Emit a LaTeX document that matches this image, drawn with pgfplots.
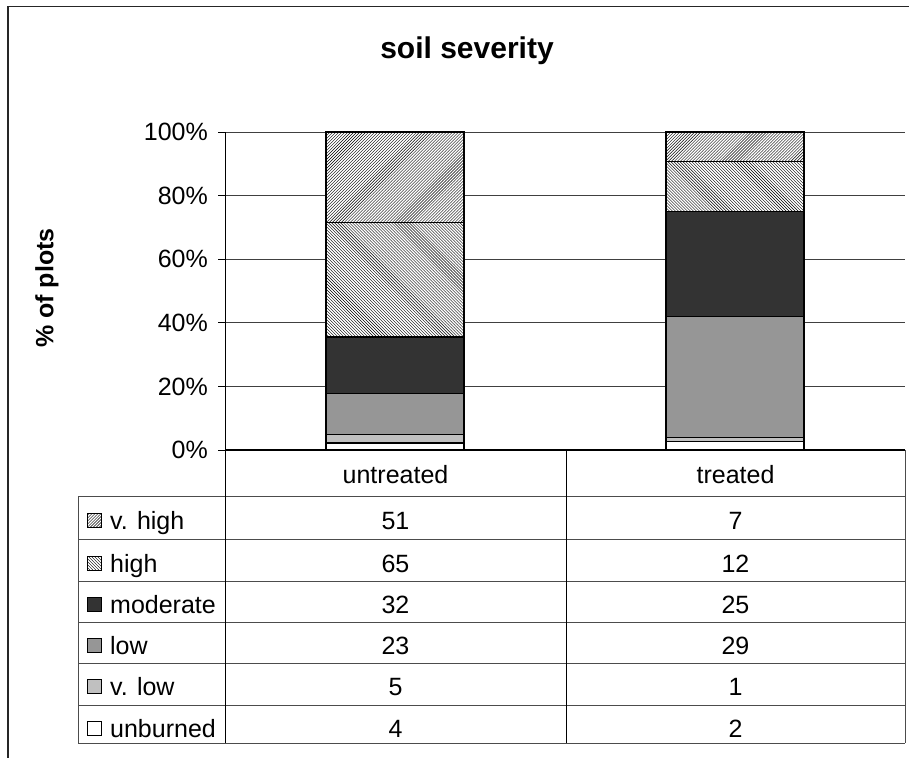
\documentclass[border=0pt]{standalone}
\usepackage{fontspec}
\setmainfont{Liberation Sans}
\usepackage{pgfplots}
\pgfplotsset{compat=1.18}
\usetikzlibrary{patterns}
\definecolor{cmod}{HTML}{333333}
\definecolor{clow}{HTML}{969696}
\definecolor{cvlow}{HTML}{C0C0C0}
\newcommand{\fs}{\fontsize{25bp}{29bp}\selectfont}
\begin{document}
\begin{tikzpicture}
\path[use as bounding box] (0bp,0bp) rectangle (909bp,-758bp);
\begin{axis}[
 at={(225bp,-450bp)}, anchor=south west,
 scale only axis, width=680bp, height=318bp,
 xmin=-0.5, xmax=1.5, ymin=0, ymax=100,
 ybar stacked, bar width=138bp,
 axis line style={draw=none},
 xtick=\empty,
 ytick={0,20,40,60,80,100},
 yticklabels={0\%,20\%,40\%,60\%,80\%,100\%},
 ytick pos=left,
 tick align=outside, major tick length=7bp,
 ytick style={black, line width=1bp},
 yticklabel style={font=\fs, inner sep=0pt, xshift=-10bp},
 ymajorgrids, grid style={black!75, line width=1bp},
 clip=false,
]
% unburned
\addplot[draw=black, line width=1.2bp, fill=white] coordinates {(0,2.222) (1,2.632)};
% v. low
\addplot[draw=black, line width=1.2bp, fill=cvlow] coordinates {(0,2.778) (1,1.316)};
% low
\addplot[draw=black, line width=1.2bp, fill=clow] coordinates {(0,12.778) (1,38.158)};
% moderate
\addplot[draw=black, line width=1.2bp, fill=cmod] coordinates {(0,17.778) (1,32.895)};
% high
\addplot[draw=black, line width=1.2bp, fill=white, postaction={pattern=north west lines, pattern color=black}] coordinates {(0,36.111) (1,15.789)};
% v. high
\addplot[draw=black, line width=1.2bp, fill=white, postaction={pattern=north east lines, pattern color=black}] coordinates {(0,28.333) (1,9.211)};
\end{axis}
\begin{scope}[x=1bp,y=-1bp]
% frame
\draw[black!85, line width=1.4bp] (8,760) -- (8,6.5) -- (912,6.5);
% title
\node[font=\bfseries\fontsize{30bp}{34bp}\selectfont, anchor=base] at (467,58) {soil severity};
% y label
\node[font=\bfseries\fs, rotate=90, anchor=center] at (47,288) {\% of plots};
% axis lines
\draw[black, line width=1bp] (225,132) -- (225,450);
% table
\foreach \yy in {496,539,581,622,663,705,743}{
  \draw[black!70, line width=1bp] (78,\yy) -- (905,\yy);
}
\draw[black!70, line width=1bp] (78,496) -- (78,743);
\draw[black, line width=1bp] (225,450) -- (225,743);
\draw[black, line width=1bp] (566,450) -- (566,743);
\draw[black!70, line width=1bp] (905,450) -- (905,743);
\draw[black, line width=1.6bp] (225,450) -- (905,450);
% header
\node[font=\fs, anchor=base] at (395.5,483) {untreated};
\node[font=\fs, anchor=base] at (735.5,483) {treated};
% rows
\foreach \bl/\lab/\a/\b in {529/v. high/51/7, 572/high/65/12, 613/moderate/32/25, 654/low/23/29, 695/v. low/5/1, 737/unburned/4/2}{
  \node[font=\fs, anchor=base west, inner sep=0pt] at (110,\bl) {\lab};
  \node[font=\fs, anchor=base, inner sep=0pt] at (395.5,\bl) {\a};
  \node[font=\fs, anchor=base, inner sep=0pt] at (735.5,\bl) {\b};
}
% legend keys
\draw[black, line width=1bp, fill=white] (87,513) rectangle (101,527);
\fill[pattern=north east lines, pattern color=black] (87,513) rectangle (101,527);
\draw[black, line width=1bp] (87,513) rectangle (101,527);
\draw[black, line width=1bp, fill=white] (87,556) rectangle (101,570);
\fill[pattern=north west lines, pattern color=black] (87,556) rectangle (101,570);
\draw[black, line width=1bp] (87,556) rectangle (101,570);
\draw[black, line width=1bp, fill=cmod] (87,597) rectangle (101,611);
\draw[black, line width=1bp, fill=clow] (87,638) rectangle (101,652);
\draw[black, line width=1bp, fill=cvlow] (87,679) rectangle (101,693);
\draw[black, line width=1bp, fill=white] (87,721) rectangle (101,735);
\end{scope}
\end{tikzpicture}
\end{document}
